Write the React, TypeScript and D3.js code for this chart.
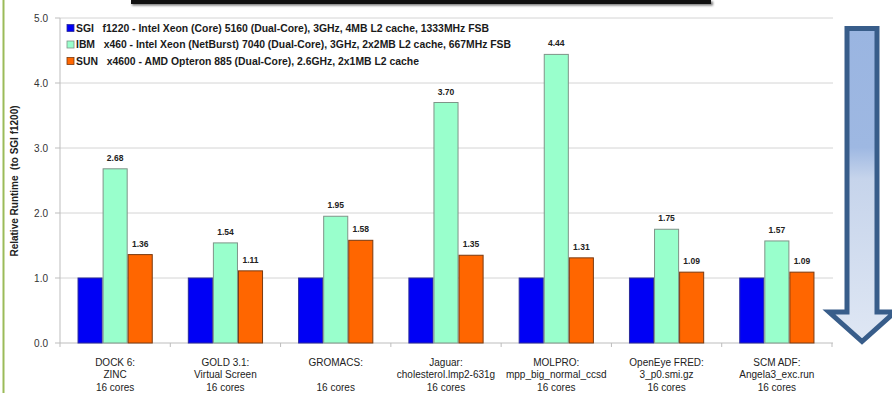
import React from "react";
import * as d3 from "d3";

const categories = [
  ["DOCK 6:", "ZINC", "16 cores"],
  ["GOLD 3.1:", "Virtual Screen", "16 cores"],
  ["GROMACS:", "", "16 cores"],
  ["Jaguar:", "cholesterol.lmp2-631g", "16 cores"],
  ["MOLPRO:", "mpp_big_normal_ccsd", "16 cores"],
  ["OpenEye FRED:", "3_p0.smi.gz", "16 cores"],
  ["SCM ADF:", "Angela3_exc.run", "16 cores"],
];

const seriesNames = ["SGI", "IBM", "SUN"];
const legendLabels = [
  "SGI   f1220 - Intel Xeon (Core) 5160 (Dual-Core), 3GHz, 4MB L2 cache, 1333MHz FSB",
  "IBM   x460 - Intel Xeon (NetBurst) 7040 (Dual-Core), 3GHz, 2x2MB L2 cache, 667MHz FSB",
  "SUN   x4600 - AMD Opteron 885 (Dual-Core), 2.6GHz, 2x1MB L2 cache",
];
const sgiValues = [1.0, 1.0, 1.0, 1.0, 1.0, 1.0, 1.0];
const ibmValues = [2.68, 1.54, 1.95, 3.7, 4.44, 1.75, 1.57];
const sunValues = [1.36, 1.11, 1.58, 1.35, 1.31, 1.09, 1.09];
const yTicks = [0, 1, 2, 3, 4, 5];
const yTitle = "Relative Runtime  (to SGI f1200)";

const fills = ["#0000F5", "#99FFCC", "#FF6600"];
const strokes = ["#2a2a9a", "#7f9488", "#7a3a10"];
const legendWidths = [413, 435, 343];

export default function App() {
  const W = 892;
  const H = 393;
  const left = 60;
  const right = 832;
  const top = 18;
  const bottom = 343;

  const y = d3.scaleLinear().domain([0, 5]).range([bottom, top]);
  const x0 = d3
    .scaleBand<number>()
    .domain(d3.range(categories.length))
    .range([left, right])
    .paddingInner(0.318)
    .paddingOuter(0.159);
  const x1 = d3
    .scaleBand<number>()
    .domain([0, 1, 2])
    .range([0, x0.bandwidth()]);
  const step = x0.step();
  const series = [sgiValues, ibmValues, sunValues];
  const font = "'Liberation Sans', Arial, sans-serif";

  // Down arrow geometry
  const ax = 862;
  const shaftHalf = 15;
  const headHalf = 33;
  const aTop = 28.5;
  const aShoulder = 312;
  const aTip = 341.5;
  const arrowPath = d3.path();
  arrowPath.moveTo(ax - shaftHalf, aTop);
  arrowPath.lineTo(ax + shaftHalf, aTop);
  arrowPath.lineTo(ax + shaftHalf, aShoulder);
  arrowPath.lineTo(ax + headHalf, aShoulder);
  arrowPath.lineTo(ax, aTip);
  arrowPath.lineTo(ax - headHalf, aShoulder);
  arrowPath.lineTo(ax - shaftHalf, aShoulder);
  arrowPath.closePath();

  return (
    <svg
      width={W}
      height={H}
      style={{ position: "absolute", left: 0, top: 0, background: "#fff" }}
      fontFamily={font}
    >
      <defs>
        <linearGradient id="arrowFill" x1="0" y1={aTop} x2="0" y2={aTip} gradientUnits="userSpaceOnUse">
          <stop offset="0" stopColor="#9AB5E1" />
          <stop offset="0.38" stopColor="#9EB8E2" />
          <stop offset="0.48" stopColor="#C6D4EB" />
          <stop offset="1" stopColor="#DFE7F4" />
        </linearGradient>
        <filter id="barShadow" x="-5%" y="-100%" width="110%" height="400%">
          <feGaussianBlur stdDeviation="1" />
        </filter>
      </defs>

      {/* left accent line */}
      <rect x={2.5} y={0} width={2} height={H} fill="#9BBB59" />

      {/* dark header strip */}
      <rect x={132} y={1.5} width={581} height={4} fill="#777" filter="url(#barShadow)" />
      <rect x={131} y={0} width={580} height={4} fill="#111" />

      {/* grid lines */}
      {yTicks.slice(1).map((t) => (
        <line key={t} x1={left} x2={right + 1} y1={y(t)} y2={y(t)} stroke="#D4D4D4" strokeWidth={1} />
      ))}

      {/* y axis */}
      <line x1={left} x2={left} y1={top} y2={bottom} stroke="#BDBDBD" />
      {yTicks.map((t) => (
        <g key={t}>
          <line x1={left - 5} x2={left} y1={y(t)} y2={y(t)} stroke="#BDBDBD" />
          <text x={48} y={y(t) + 3.5} textAnchor="end" fontSize={10} fill="#333">
            {t.toFixed(1)}
          </text>
        </g>
      ))}
      <text
        transform={`translate(18,${(92 + 270) / 2}) rotate(-90)`}
        textAnchor="middle"
        fontSize={10}
        fontWeight="bold"
        fill="#222"
        style={{ whiteSpace: "pre" }}
      >
        {yTitle}
      </text>

      {/* x axis */}
      <line x1={left} x2={right + 1} y1={bottom} y2={bottom} stroke="#BDBDBD" />
      {d3.range(categories.length + 1).map((i) => (
        <line key={i} x1={left + i * step} x2={left + i * step} y1={bottom} y2={bottom + 4} stroke="#BDBDBD" />
      ))}

      {/* bars */}
      {categories.map((cat, i) => (
        <g key={i} transform={`translate(${x0(i)},0)`}>
          {series.map((vals, s) => (
            <rect
              key={s}
              x={x1(s)! + 0.5}
              y={y(vals[i])}
              width={x1.bandwidth() - 1}
              height={y(0) - y(vals[i])}
              fill={fills[s]}
              stroke={strokes[s]}
              strokeWidth={1}
            />
          ))}
          {[ibmValues, sunValues].map((vals, k) => (
            <text
              key={k}
              x={x1(k + 1)! + x1.bandwidth() / 2}
              y={y(vals[i]) - 8}
              textAnchor="middle"
              fontSize={8.5}
              fontWeight="bold"
              fill="#222"
            >
              {vals[i].toFixed(2)}
            </text>
          ))}
        </g>
      ))}

      {/* category labels */}
      {categories.map((lines, i) => (
        <text key={i} textAnchor="middle" fontSize={10} fill="#222">
          {lines.map((ln, j) => (
            <tspan key={j} x={left + (i + 0.5) * step} y={365.5 + j * 12.5}>
              {ln}
            </tspan>
          ))}
        </text>
      ))}

      {/* legend */}
      {seriesNames.map((name, s) => (
        <g key={name} transform={`translate(67,${28 + s * 16.5})`}>
          <rect x={0} y={-3.5} width={7} height={7} fill={fills[s]} stroke={strokes[s]} strokeWidth={0.8} />
          <text
            x={9}
            y={3.8}
            fontSize={10}
            fontWeight="bold"
            fill="#1a1a1a"
            textLength={legendWidths[s]}
            lengthAdjust="spacingAndGlyphs"
            style={{ whiteSpace: "pre" }}
          >
            {legendLabels[s]}
          </text>
        </g>
      ))}

      {/* direction arrow */}
      <path
        d={arrowPath.toString()}
        fill="url(#arrowFill)"
        stroke="#385D8A"
        strokeWidth={5}
        strokeLinejoin="miter"
      />
    </svg>
  );
}
